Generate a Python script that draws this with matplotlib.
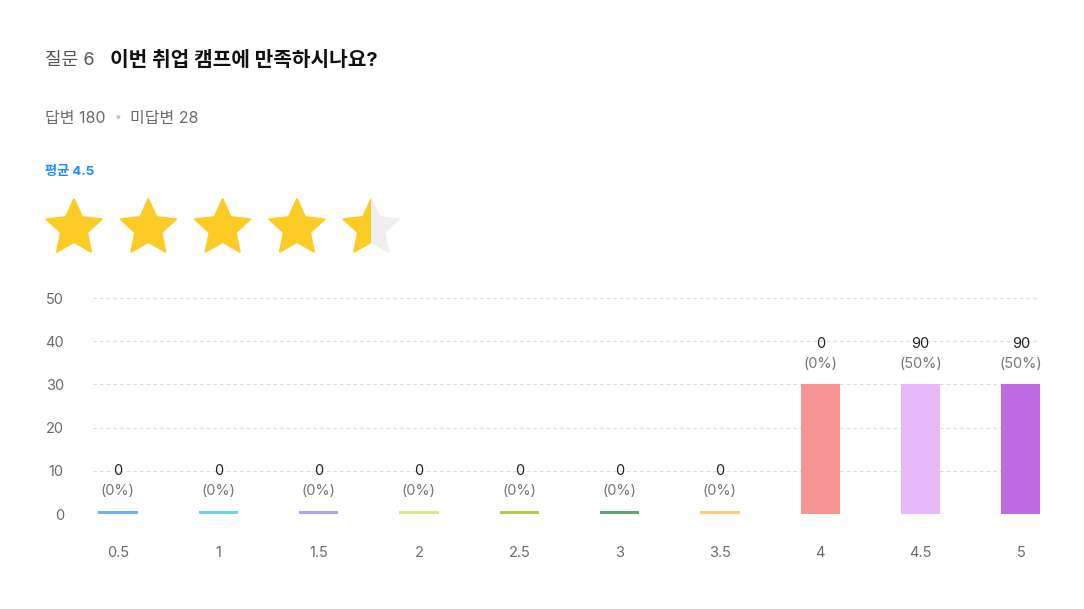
import numpy as np
import matplotlib
matplotlib.use("Agg")
import matplotlib.pyplot as plt
from matplotlib.patches import Polygon, Rectangle

plt.rcParams['font.family'] = ['Inter', 'Noto Sans CJK KR', 'DejaVu Sans']

# ---- data ----
question_no = 6
question = "이번 취업 캠프에 만족하시나요?"
answered = 180
unanswered = 28
average = 4.5
categories = ["0.5", "1", "1.5", "2", "2.5", "3", "3.5", "4", "4.5", "5"]
bar_values = [0, 0, 0, 0, 0, 0, 0, 30, 30, 30]
count_labels = [0, 0, 0, 0, 0, 0, 0, 0, 90, 90]
pct_labels = [0, 0, 0, 0, 0, 0, 0, 0, 50, 50]
yticks = [0, 10, 20, 30, 40, 50]
bar_colors = ["#6fb1ef", "#6fd0e0", "#aaa5f2", "#d7e78c", "#b3c84c",
              "#5ea47d", "#f6cf7d", "#f79494", "#e8b9f9", "#c06ae2"]

W, H = 1084, 609
fig = plt.figure(figsize=(W / 100, H / 100), dpi=100)
fig.patch.set_facecolor("white")

def fx(px):
    return px / W

def fy(py):
    return 1 - py / H

# ---- header texts ----
fig.text(fx(45), fy(60), f"질문 {question_no}", fontsize=13, color="#555555",
         va="center", ha="left")
fig.text(fx(110), fy(60), question, fontsize=14.6, color="#111111",
         fontweight="bold", va="center", ha="left")
fig.text(fx(45), fy(119), f"답변 {answered}", fontsize=11.5, color="#6b6b6b",
         va="center", ha="left")
fig.text(fx(118), fy(118), "•", fontsize=9, color="#c4c4c4",
         va="center", ha="center")
fig.text(fx(130), fy(119), f"미답변 {unanswered}", fontsize=11.5, color="#6b6b6b",
         va="center", ha="left")
fig.text(fx(45), fy(172), f"평균 {average}", fontsize=9.5, color="#1e8ef0",
         fontweight="bold", va="center", ha="left")

# ---- stars ----
ax_s = fig.add_axes([fx(40), fy(262), fx(370), 72 / H])
ax_s.set_xlim(-0.458, -0.458 + 370 / 74.3)
ax_s.set_ylim(-36 / 74.3, 36 / 74.3)
ax_s.axis("off")

def star_pts(cx, cy, R, r):
    pts = []
    for k in range(10):
        ang = np.pi / 2 + k * np.pi / 5
        rad = R if k % 2 == 0 else r
        pts.append((cx + rad * np.cos(ang), cy + rad * np.sin(ang)))
    return pts

R = 0.39
r = 0.185
for i in range(5):
    fill = float(np.clip(average - i, 0, 1))
    cy = -0.03
    if fill < 1:
        ax_s.add_patch(Polygon(star_pts(i, cy, R, r), closed=True,
                               facecolor="#efefef", edgecolor="#efefef",
                               linewidth=1.5, joinstyle="round"))
    if fill > 0:
        p = Polygon(star_pts(i, cy, R, r), closed=True, facecolor="#fdcb26",
                    edgecolor="#fdcb26", linewidth=1.5, joinstyle="round")
        ax_s.add_patch(p)
        if fill < 1:
            clip_w = (R * np.cos(np.deg2rad(18)) + 0.05)
            clip = Rectangle((i - clip_w, -1), 2 * clip_w * fill, 2,
                             transform=ax_s.transData)
            p.set_clip_path(clip)

# ---- bar chart ----
ax = fig.add_axes([fx(93), fy(514), fx(1040 - 93), (514 - 298) / H])
x = np.arange(len(categories))
vals = np.array(bar_values, dtype=float)
disp = np.maximum(vals, 0.7)
ax.bar(x, disp, width=0.39, color=bar_colors, zorder=3)

ax.set_xlim(-0.249, 9.19)
ax.set_ylim(0, 50)
ax.set_yticks(yticks)
ax.set_xticks(x)
ax.set_xticklabels(categories)
ax.tick_params(axis="y", length=0, pad=21, labelsize=10.5, labelcolor="#6b6b6b")
ax.tick_params(axis="x", length=0, pad=23, labelsize=10.5, labelcolor="#6b6b6b")
for lab in ax.get_yticklabels():
    lab.set_horizontalalignment("right")
for s in ax.spines.values():
    s.set_visible(False)
ax.grid(axis="y", color="#dcdcdc", linestyle=(0, (3, 3)), linewidth=0.8, zorder=0)
ax.set_axisbelow(True)
ax.patch.set_alpha(0)

for xi, h, c, pc in zip(x, disp, count_labels, pct_labels):
    ax.annotate(f"{c}", (xi, h), xytext=(0, 40), textcoords="offset pixels",
                ha="center", va="center", fontsize=10.5, color="#222222", zorder=5)
    ax.annotate(f"({pc}%)", (xi, h), xytext=(0, 20), textcoords="offset pixels",
                ha="center", va="center", fontsize=10.5, color="#777777", zorder=5)

fig.savefig("out.png", dpi=100, facecolor="white")
